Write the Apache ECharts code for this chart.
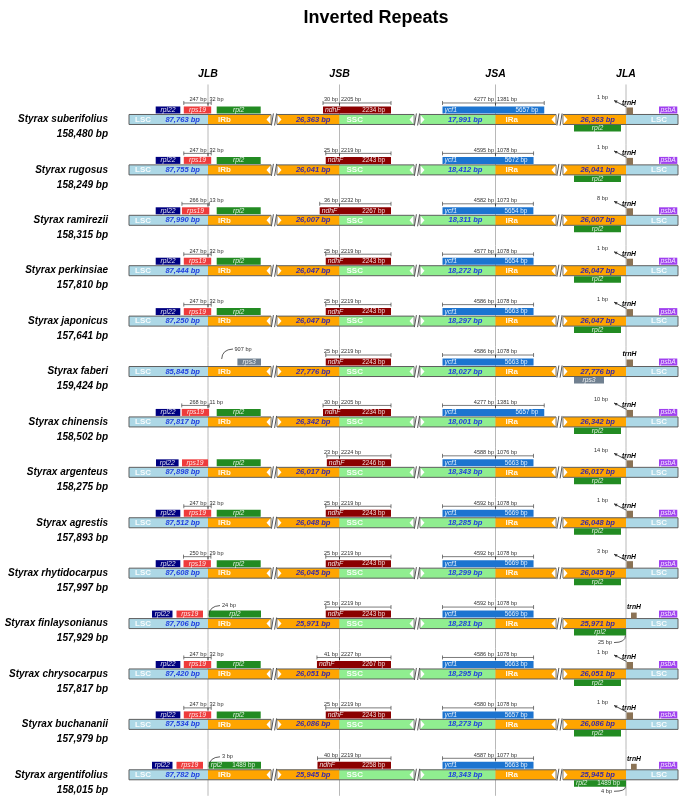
<!DOCTYPE html>
<html>
<head>
<meta charset="utf-8">
<script src="https://cdn.jsdelivr.net/npm/echarts@6/dist/echarts.min.js"></script>
<style>html,body{margin:0;padding:0;background:#fff}#c{width:685px;height:800px}</style>
</head>
<body>
<div id="c"></div>
<script>
// ---------------- data ----------------
const species = ['Styrax suberifolius','Styrax rugosus','Styrax ramirezii','Styrax perkinsiae','Styrax japonicus','Styrax faberi','Styrax chinensis','Styrax argenteus','Styrax agrestis','Styrax rhytidocarpus','Styrax finlaysonianus','Styrax chrysocarpus','Styrax buchananii','Styrax argentifolius'];
const genomeLen = [158480,158249,158315,157810,157641,159424,158502,158275,157893,157997,157929,157817,157979,158015];
const lscLen = [87763,87755,87990,87444,87250,85845,87817,87898,87512,87608,87706,87420,87534,87782];
const irLen = [26363,26041,26007,26047,26047,27776,26342,26017,26048,26045,25971,26051,26086,25945];
const sscLen = [17991,18412,18311,18272,18297,18027,18001,18343,18285,18299,18281,18295,18273,18343];
const junctionNames = ['JLB','JSB','JSA','JLA'];
// JLB : rps19
const rps19Mode = ['span','span','span','span','span','none','span','edge','span','span','lsc','span','span','lsc'];
const rps19Left = [247,247,266,247,247,null,268,null,247,250,null,247,247,null];
const rps19Right = [32,32,13,32,32,null,11,null,32,29,null,32,32,null];
// gene in IRb next to JLB
const irbGene = ['rpl2','rpl2','rpl2','rpl2','rpl2','rps3','rpl2','rpl2','rpl2','rpl2','rpl2','rpl2','rpl2','rpl2'];
const irbGeneGap = [null,null,null,null,null,907,null,null,null,null,24,null,null,3];
const rpl2Len = [null,null,null,null,null,null,null,null,null,null,null,null,null,1489];
// JSB : ndhF
const ndhFLeft = [30,25,36,25,25,25,30,23,25,25,25,41,25,40];
const ndhFRight = [2205,2219,2232,2219,2219,2219,2205,2224,2219,2219,2219,2227,2219,2219];
const ndhFLen = [2234,2243,2267,2243,2243,2243,2234,2246,2243,2243,2243,2267,2243,2258];
// JSA : ycf1
const ycf1Left = [4277,4595,4582,4577,4586,4586,4277,4588,4592,4592,4592,4586,4580,4587];
const ycf1Right = [1381,1078,1073,1078,1078,1078,1381,1076,1078,1078,1078,1078,1078,1077];
const ycf1Len = [5657,5672,5654,5654,5663,5663,5657,5663,5669,5669,5669,5663,5657,5663];
// JLA : trnH, gene in IRa
const trnHMode = ['adj','adj','adj','adj','adj','adj','adj','adj','adj','adj','far','adj','adj','far'];
const trnHGap = [1,1,8,1,1,null,10,14,1,3,null,1,1,null];
const iraGene = ['rpl2','rpl2','rpl2','rpl2','rpl2','rps3','rpl2','rpl2','rpl2','rpl2','rpl2','rpl2','rpl2','rpl2'];
const iraGeneGap = [null,null,null,null,null,null,null,null,null,null,25,null,null,4];

// ---------------- layout (diagram units) ----------------
const FF = '"Liberation Sans", Arial, Helvetica, sans-serif';
const L = {start:0, jlb:79, irb1End:142, irb2Start:148, jsb:210.5, ssc1End:285, ssc2Start:291, jsa:366.5, ira1End:427, ira2Start:434, jla:497, end:549};
const K_JLB_L = 0.098, K_JLB_R = 0.1, K_JSB = 0.55, K_JSA = 0.0353;
const COL = {lsc:'#add8e6', ir:'#ffa500', ssc:'#90ee90', rpl22:'#000080', rps19:'#ee3b3b', rpl2:'#228b22', rps3:'#708090', ndhF:'#8b0000', ycf1:'#1c74d0', trnH:'#8b7355', psbA:'#a040f0'};
const fmt = n => n.toLocaleString('en-US');

function renderItem(params, api) {
  const i = api.value(1);
  const cy = api.coord([0, i])[1];
  const X = u => api.coord([u, i])[0];
  const band = api.size([0, 1])[1];
  const k = [];
  const line = (x1,y1,x2,y2,stroke,w) => k.push({type:'line', shape:{x1,y1,x2,y2}, style:{stroke:stroke||'#333', lineWidth:w||0.8}});
  const txt = (x,y,s,o) => k.push({type:'text', style:Object.assign({x,y,text:s,fontFamily:FF,fontSize:7,fill:'#000',align:'left',verticalAlign:'middle'},o||{})});
  const box = (a,b,y,h,fill,stroke) => k.push({type:'rect', shape:{x:X(a), y, width:X(b)-X(a), height:h}, style:{fill, stroke:stroke||null, lineWidth:stroke?1:0}});
  const glab = 'rgba(255,255,255,0.88)';
  const gene = (a,b,pos,color,label,len) => {
    const y = pos==='up' ? cy-13 : cy+5.5;
    const h = pos==='up' ? 7 : 6.5;
    box(a,b,y,h,color);
    if (len) {
      txt(X(a)+2, y+h/2, label, {fontStyle:'italic', fontSize:6.8, fill:glab});
      txt(X(b)-6, y+h/2, len+' bp', {fontSize:6.3, fill:glab, align:'right'});
    } else {
      txt((X(a)+X(b))/2, y+h/2, label, {fontStyle:'italic', fontSize:6.8, fill:glab, align:'center'});
    }
  };
  const bracket = (a,j,b,lt,rt) => {
    const y = cy-16.5;
    line(X(a),y,X(b),y,'#444',0.7);
    line(X(a),y-2,X(a),y+2,'#444',0.7);
    line(X(b),y-2,X(b),y+2,'#444',0.7);
    line(X(j),y,X(j),y+2.5,'#444',1);
    txt(X(j)-1.5, y-3.2, lt, {fontSize:5.6, fill:'#333', align:'right'});
    txt(X(j)+1.5, y-3.2, rt, {fontSize:5.6, fill:'#333'});
  };

  // junction lines
  [L.jlb, L.jsb, L.jsa, L.jla].forEach((j, n) => {
    const y1 = i === 0 ? cy-35 : cy-band/2;
    const y2 = i === species.length-1 ? cy+21 : cy+band/2;
    line(X(j), y1, X(j), y2, '#b8b8b8', 1);
    if (i === 0) txt(X(j), cy-45, junctionNames[n], {fontSize:10.5, fontWeight:'bold', fontStyle:'italic', align:'center'});
  });

  // species labels
  txt(X(0)-21, cy, species[i], {fontSize:10, fontWeight:'bold', fontStyle:'italic', align:'right'});
  txt(X(0)-21, cy+15, fmt(genomeLen[i])+' bp', {fontSize:10, fontWeight:'bold', fontStyle:'italic', align:'right'});

  // main track
  const yT = cy-5, hT = 10;
  box(L.start, L.jlb, yT, hT, COL.lsc);
  box(L.jlb, L.irb1End, yT, hT, COL.ir);
  box(L.irb2Start, L.jsb, yT, hT, COL.ir);
  box(L.jsb, L.ssc1End, yT, hT, COL.ssc);
  box(L.ssc2Start, L.jsa, yT, hT, COL.ssc);
  box(L.jsa, L.ira1End, yT, hT, COL.ir);
  box(L.ira2Start, L.jla, yT, hT, COL.ir);
  box(L.jla, L.end, yT, hT, COL.lsc);
  [[L.start,L.irb1End],[L.irb2Start,L.ssc1End],[L.ssc2Start,L.ira1End],[L.ira2Start,L.end]].forEach(r => box(r[0], r[1], yT, hT, null, '#5e5e5e'));
  // breaks
  [[L.irb1End,L.irb2Start],[L.ssc1End,L.ssc2Start],[L.ira1End,L.ira2Start]].forEach(r => {
    const e = X(r[0]), s = X(r[1]);
    k.push({type:'polygon', shape:{points:[[e-0.5,cy-4.5],[e-0.5,cy+4.5],[e-4.5,cy]]}, style:{fill:'#fff'}});
    k.push({type:'polygon', shape:{points:[[s+0.5,cy-4.5],[s+0.5,cy+4.5],[s+4.5,cy]]}, style:{fill:'#fff'}});
    const m = (e+s)/2;
    line(m-2.6, cy+6, m-0.6, cy-6, '#555', 1);
    line(m+0.6, cy+6, m+2.6, cy-6, '#555', 1);
  });
  // region labels
  const rl = {fontSize:8, fontWeight:'bold', fill:'rgba(255,255,255,0.9)'};
  txt(X(L.start)+6, cy, 'LSC', rl);
  txt(X(L.jlb)+10, cy, 'IRb', rl);
  txt(X(L.jsb)+7, cy, 'SSC', rl);
  txt(X(L.jsa)+10, cy, 'IRa', rl);
  txt(X(L.jla)+33, cy, 'LSC', Object.assign({align:'center'}, rl));
  const nl = {fontSize:7.6, fontWeight:'bold', fontStyle:'italic', align:'right'};
  txt(X(L.jlb)-8, cy, fmt(lscLen[i])+' bp', Object.assign({fill:'#1f3fe0'}, nl));
  txt(X(L.jsb)-9, cy, fmt(irLen[i])+' bp', Object.assign({fill:'#3a2aa8'}, nl));
  txt(X(L.jsa)-13, cy, fmt(sscLen[i])+' bp', Object.assign({fill:'#1f3fe0'}, nl));
  txt(X(L.jla)-11, cy, fmt(irLen[i])+' bp', Object.assign({fill:'#3a2aa8'}, nl));

  // JLB region
  const mode = rps19Mode[i];
  if (mode === 'span') {
    const a = L.jlb - K_JLB_L*rps19Left[i], b = L.jlb + K_JLB_R*rps19Right[i];
    gene(L.jlb-52.3, L.jlb-27.7, 'up', COL.rpl22, 'rpl22');
    gene(a, b, 'up', COL.rps19, 'rps19');
    bracket(a, L.jlb, b, rps19Left[i]+' bp', rps19Right[i]+' bp');
  } else if (mode === 'edge') {
    gene(L.jlb-52, L.jlb-29.4, 'up', COL.rpl22, 'rpl22');
    gene(L.jlb-26, L.jlb, 'up', COL.rps19, 'rps19');
  } else if (mode === 'lsc') {
    gene(L.jlb-56, L.jlb-35.5, 'up', COL.rpl22, 'rpl22');
    gene(L.jlb-31.5, L.jlb-5, 'up', COL.rps19, 'rps19');
  }
  const ig = irbGene[i], igGap = irbGeneGap[i];
  if (ig === 'rps3') {
    gene(L.jlb+29.4, L.jlb+53, 'up', COL.rps3, 'rps3');
    k.push({type:'bezierCurve', shape:{x1:X(L.jlb+13.7), y1:cy-12.5, cpx1:X(L.jlb+14), cpy1:cy-22, x2:X(L.jlb+25), y2:cy-22.5}, style:{stroke:'#333', lineWidth:0.8, fill:null}});
    txt(X(L.jlb+26.5), cy-22.5, igGap+' bp', {fontSize:5.6, fill:'#333'});
  } else if (igGap != null) {
    gene(L.jlb+0.7, L.jlb+53, 'up', COL.rpl2, 'rpl2', rpl2Len[i]);
    k.push({type:'bezierCurve', shape:{x1:X(L.jlb+1), y1:cy-8, cpx1:X(L.jlb+1), cpy1:cy-17.5, x2:X(L.jlb+12), y2:cy-18}, style:{stroke:'#333', lineWidth:0.8, fill:null}});
    txt(X(L.jlb+14), cy-18.5, igGap+' bp', {fontSize:5.6, fill:'#333'});
  } else {
    gene(L.jlb+8.7, L.jlb+52.7, 'up', COL.rpl2, 'rpl2');
  }

  // JSB : ndhF
  {
    const a = L.jsb - K_JSB*ndhFLeft[i], b = L.jsb + 51.5;
    gene(a, b, 'up', COL.ndhF, 'ndhF', ndhFLen[i]);
    bracket(a, L.jsb, b, ndhFLeft[i]+' bp', ndhFRight[i]+' bp');
  }
  // JSA : ycf1
  {
    const a = L.jsa - 53, b = L.jsa + K_JSA*ycf1Right[i];
    gene(a, b, 'up', COL.ycf1, 'ycf1', ycf1Len[i]);
    bracket(a, L.jsa, b, ycf1Left[i]+' bp', ycf1Right[i]+' bp');
  }
  // JLA
  const ag = iraGene[i], agGap = iraGeneGap[i];
  if (ag === 'rps3') {
    gene(L.jla-52, L.jla-22, 'down', COL.rps3, 'rps3');
  } else if (agGap != null) {
    gene(L.jla-52, L.jla, 'down', COL.rpl2, 'rpl2', rpl2Len[i]);
    const yb = cy + (i === species.length-1 ? 16.5 : 19);
    k.push({type:'bezierCurve', shape:{x1:X(L.jla-0.5), y1:cy+12, cpx1:X(L.jla-0.5), cpy1:yb, x2:X(L.jla-12), y2:yb}, style:{stroke:'#333', lineWidth:0.8, fill:null}});
    txt(X(L.jla-14), yb, agGap+' bp', {fontSize:5.6, fill:'#333', align:'right'});
  } else {
    gene(L.jla-52, L.jla-5, 'down', COL.rpl2, 'rpl2');
  }
  const tl = {fontSize:6.8, fontWeight:'bold', fontStyle:'italic', align:'center'};
  if (trnHMode[i] === 'far') {
    box(L.jla+5, L.jla+10.7, cy-11, 6, COL.trnH);
    txt(X(L.jla+8), cy-16, 'trnH', tl);
  } else {
    box(L.jla+0.5, L.jla+7, cy-12, 7, COL.trnH);
    if (trnHGap[i] != null) {
      const p0 = [X(L.jla-12), cy-19], p1 = [X(L.jla+0.5), cy-12.5];
      line(p0[0], p0[1], p1[0], p1[1], '#333', 0.9);
      const dx = p1[0]-p0[0], dy = p1[1]-p0[1], d = Math.hypot(dx, dy);
      const ux = dx/d, uy = dy/d, nx = -uy, ny = ux;
      k.push({type:'polygon', shape:{points:[p0, [p0[0]+ux*3.2+nx*1.6, p0[1]+uy*3.2+ny*1.6], [p0[0]+ux*3.2-nx*1.6, p0[1]+uy*3.2-ny*1.6]]}, style:{fill:'#333'}});
      txt(X(L.jla-18), cy-22, trnHGap[i]+' bp', {fontSize:5.6, fill:'#333', align:'right'});
      txt(X(L.jla+3), cy-16.5, 'trnH', tl);
    } else {
      txt(X(L.jla+3.5), cy-17.5, 'trnH', tl);
    }
  }
  gene(L.jla+33, L.jla+51.3, 'up', COL.psbA, 'psbA');

  return {type:'group', children:k};
}

const chart = echarts.init(document.getElementById('c'), null, {renderer:'canvas'});
const band = 50.45;
chart.setOption({
  animation: false,
  backgroundColor: '#fff',
  graphic: [{type:'text', x:376, y:18, style:{text:'Inverted Repeats', fontFamily:FF, fontSize:18, fontWeight:'bold', fill:'#000', align:'center', verticalAlign:'middle'}}],
  grid: {left:129, width:549, top:119.5-band/2, height:band*species.length},
  xAxis: {type:'value', min:0, max:549, show:false},
  yAxis: {type:'category', data:species, inverse:true, show:false},
  series: [{
    type:'custom',
    renderItem: renderItem,
    clip: false,
    encode: {x:0, y:1},
    data: species.map((s, i) => [0, i])
  }]
});
</script>
</body>
</html>
